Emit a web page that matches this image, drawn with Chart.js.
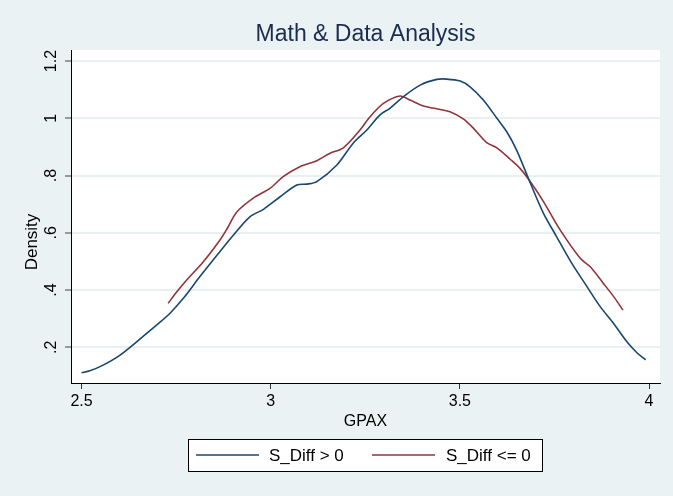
<!DOCTYPE html>
<html><head><meta charset="utf-8">
<script src="https://cdn.jsdelivr.net/npm/chart.js@4/dist/chart.umd.min.js"></script>
<style>html,body{margin:0;padding:0;background:#eaf2f3;}#wrap{width:673px;height:496px;}</style>
</head><body><div id="wrap"><canvas id="c" width="673" height="496"></canvas></div>
<script>
const chartTitle = 'Math & Data Analysis';
const xAxisTitle = 'GPAX';
const yAxisTitle = 'Density';
const xTicks = [2.5, 3, 3.5, 4];
const yTicks = [0.2, 0.4, 0.6, 0.8, 1.0, 1.2];
const yTickLabels = ['.2', '.4', '.6', '.8', '1', '1.2'];
const seriesNames = ['S_Diff > 0', 'S_Diff <= 0'];

const posX = [2.500, 2.522, 2.553, 2.602, 2.659, 2.699, 2.734, 2.769, 2.813, 2.860, 2.900, 2.945, 2.981, 3.025, 3.069, 3.095, 3.122, 3.175, 3.218, 3.254, 3.289, 3.315, 3.351, 3.395, 3.439, 3.465, 3.501, 3.527, 3.562, 3.598, 3.624, 3.650, 3.684, 3.721, 3.756, 3.796, 3.836, 3.871, 3.906, 3.941, 3.968, 3.991];
const posY = [0.111, 0.118, 0.135, 0.173, 0.234, 0.278, 0.319, 0.371, 0.447, 0.525, 0.590, 0.656, 0.682, 0.726, 0.767, 0.770, 0.779, 0.837, 0.913, 0.959, 1.012, 1.035, 1.076, 1.116, 1.136, 1.137, 1.130, 1.110, 1.064, 1.000, 0.953, 0.889, 0.781, 0.668, 0.586, 0.493, 0.412, 0.342, 0.284, 0.220, 0.181, 0.156];

const negX = [2.729, 2.752, 2.778, 2.822, 2.866, 2.885, 2.910, 2.954, 2.998, 3.033, 3.077, 3.122, 3.157, 3.192, 3.236, 3.263, 3.298, 3.342, 3.368, 3.404, 3.448, 3.474, 3.509, 3.536, 3.571, 3.598, 3.633, 3.659, 3.686, 3.721, 3.765, 3.818, 3.844, 3.879, 3.910, 3.931];
const negY = [0.354, 0.394, 0.435, 0.499, 0.575, 0.615, 0.672, 0.721, 0.755, 0.796, 0.831, 0.852, 0.878, 0.897, 0.959, 1.006, 1.052, 1.078, 1.064, 1.043, 1.031, 1.023, 0.998, 0.965, 0.915, 0.897, 0.857, 0.825, 0.779, 0.709, 0.610, 0.511, 0.482, 0.424, 0.371, 0.330];

const BLUE = '#1a476f';
const RED = '#90353b';
const BG = '#eaf2f3';
const FONT = '"Liberation Sans", Arial, Helvetica, sans-serif';

const pts = (xs, ys) => xs.map((x, i) => ({x: x, y: ys[i]}));

const decor = {
  id: 'decor',
  beforeDraw(chart) {
    const {ctx, chartArea: a} = chart;
    ctx.save();
    ctx.fillStyle = BG;
    ctx.fillRect(0, 0, chart.width, chart.height);
    ctx.fillStyle = '#ffffff';
    ctx.fillRect(a.left, a.top, a.right - a.left, a.bottom - a.top);
    ctx.restore();
  },
  afterDraw(chart) {
    const {ctx, chartArea: a} = chart;
    const ys = chart.scales.y;
    ctx.save();
    // title
    ctx.fillStyle = '#1c2b50';
    ctx.font = '23px ' + FONT;
    ctx.textAlign = 'center';
    ctx.textBaseline = 'middle';
    ctx.fillText(chartTitle, (a.left + a.right) / 2, 35);
    // y tick labels (rotated)
    ctx.fillStyle = '#000';
    ctx.font = '16px ' + FONT;
    yTicks.forEach((v, i) => {
      const py = ys.getPixelForValue(v);
      ctx.save();
      ctx.translate(52, py);
      ctx.rotate(-Math.PI / 2);
      ctx.textAlign = 'center';
      ctx.textBaseline = 'middle';
      ctx.fillText(yTickLabels[i], 0, 0);
      ctx.restore();
    });
    // y axis title
    ctx.save();
    ctx.font = '17px ' + FONT;
    ctx.translate(32, 242);
    ctx.rotate(-Math.PI / 2);
    ctx.textAlign = 'center';
    ctx.textBaseline = 'middle';
    ctx.fillText(yAxisTitle, 0, 0);
    ctx.restore();
    // legend
    const lx = 188.5, ly = 439.5, lw = 354, lh = 32;
    ctx.fillStyle = '#fff';
    ctx.fillRect(lx, ly, lw, lh);
    ctx.strokeStyle = '#000';
    ctx.lineWidth = 1;
    ctx.strokeRect(lx, ly, lw, lh);
    const cy = 455;
    const items = [
      {color: BLUE, x0: 196, x1: 259, tx: 269, text: seriesNames[0]},
      {color: RED, x0: 372, x1: 435, tx: 446, text: seriesNames[1]}
    ];
    items.forEach(it => {
      ctx.strokeStyle = it.color;
      ctx.lineWidth = 1.6;
      ctx.beginPath();
      ctx.moveTo(it.x0, cy);
      ctx.lineTo(it.x1, cy);
      ctx.stroke();
      ctx.fillStyle = '#000';
      ctx.font = '17px ' + FONT;
      ctx.textAlign = 'left';
      ctx.textBaseline = 'middle';
      ctx.fillText(it.text, it.tx, cy + 1);
    });
    ctx.restore();
  }
};

new Chart(document.getElementById('c'), {
  type: 'line',
  data: {
    datasets: [
      {label: seriesNames[0], data: pts(posX, posY), borderColor: BLUE, borderWidth: 1.6, pointRadius: 0, tension: 0.3, fill: false},
      {label: seriesNames[1], data: pts(negX, negY), borderColor: RED, borderWidth: 1.6, pointRadius: 0, tension: 0.3, fill: false}
    ]
  },
  options: {
    responsive: false,
    devicePixelRatio: 1,
    animation: false,
    layout: {padding: {top: 50, right: 13, left: 0, bottom: 0}},
    plugins: {legend: {display: false}, title: {display: false}, tooltip: {enabled: false}},
    scales: {
      x: {
        type: 'linear',
        min: 2.4722, max: 4.029,
        afterBuildTicks: s => { s.ticks = xTicks.map(v => ({value: v})); },
        afterFit: s => { s.height = 113; },
        grid: {drawOnChartArea: false, drawTicks: true, tickLength: 6, tickColor: '#333', tickWidth: 1},
        border: {display: true, color: '#000', width: 1},
        ticks: {color: '#000', font: {family: FONT, size: 16}, padding: 3, maxRotation: 0, autoSkip: false,
                callback: v => String(v)},
        title: {display: true, text: xAxisTitle, color: '#000', font: {family: FONT, size: 16}, padding: {top: 0, bottom: 65}}
      },
      y: {
        type: 'linear',
        min: 0.0753, max: 1.2386,
        afterBuildTicks: s => { s.ticks = yTicks.map(v => ({value: v})); },
        afterFit: s => { s.width = 71; },
        grid: {color: '#e8f0f2', lineWidth: 2, drawTicks: true, tickLength: 6, tickColor: '#444', tickWidth: 1},
        border: {display: true, color: '#000', width: 1},
        ticks: {display: false}
      }
    }
  },
  plugins: [decor]
});
</script>
</body></html>
